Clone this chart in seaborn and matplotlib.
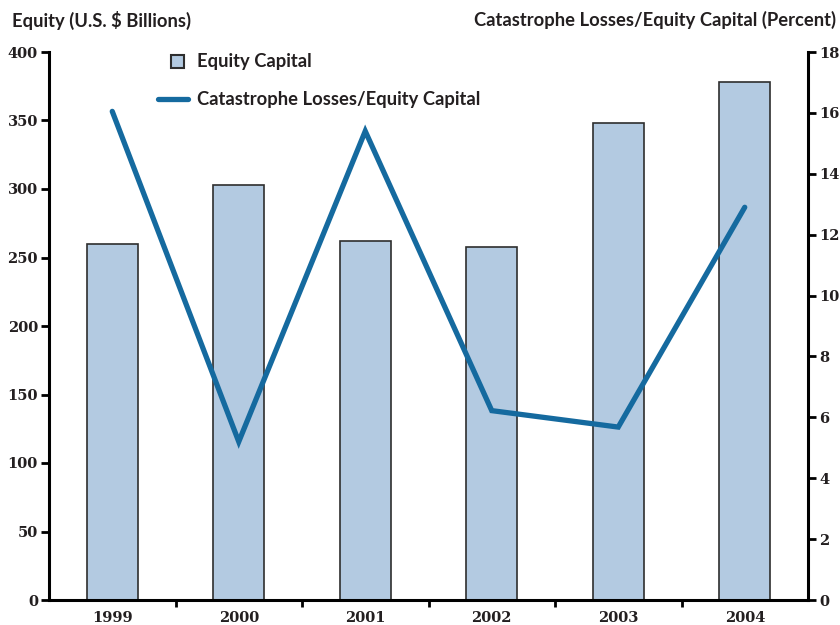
import numpy as np
import pandas as pd
import matplotlib
matplotlib.use("Agg")
import matplotlib.pyplot as plt
import matplotlib.patches as mpatches
from matplotlib.lines import Line2D
from matplotlib.legend_handler import HandlerPatch
from matplotlib.ticker import FixedLocator
import seaborn as sns

years = ["1999", "2000", "2001", "2002", "2003", "2004"]
equity_capital = [259.6, 303.1, 261.8, 257.7, 348.0, 378.3]          # U.S. $ billions
cat_loss_ratio = [16.05, 5.2, 15.4, 6.22, 5.68, 12.9]                # percent
left_ticks = [0, 50, 100, 150, 200, 250, 300, 350, 400]
right_ticks = [0, 2, 4, 6, 8, 10, 12, 14, 16, 18]

sns.set_theme(style="white")
plt.rcParams["font.family"] = ["Lato", "DejaVu Sans"]

BAR_FILL = "#b3cae1"
BAR_EDGE = "#2e2e2e"
LINE_COL = "#156a9f"
TEXT_COL = "#231f20"
TICK_FONT = dict(family=["DejaVu Serif"], weight="bold", size=10.5)
LABEL_SIZE = 13.2

df = pd.DataFrame({"year": years, "equity": equity_capital, "ratio": cat_loss_ratio})

fig = plt.figure(figsize=(8.4, 6.25), dpi=100)
ax = fig.add_axes([49 / 840, 1 - 600 / 625, (808 - 49) / 840, (600 - 52) / 625])

sns.barplot(data=df, x="year", y="equity", ax=ax, color=BAR_FILL,
            width=0.405, edgecolor=BAR_EDGE, linewidth=1.2, saturation=1)
ax.set_xlim(-0.5, len(years) - 0.5)
ax.set_ylim(0, 400)
ax.set_xlabel("")
ax.set_ylabel("")

ax2 = ax.twinx()
sns.lineplot(x=np.arange(len(years)), y=df["ratio"], ax=ax2, color=LINE_COL,
             linewidth=3.8, solid_joinstyle="miter", solid_capstyle="round")
ax2.set_ylim(0, 18)
ax2.set_ylabel("")

# spines
for a in (ax, ax2):
    a.spines["top"].set_visible(False)
    for side in ("left", "right", "bottom"):
        a.spines[side].set_linewidth(2.2)
        a.spines[side].set_color("black")
ax.spines["right"].set_visible(False)
ax2.spines["left"].set_visible(False)
ax2.spines["bottom"].set_visible(False)

# y ticks
ax.yaxis.set_major_locator(FixedLocator(left_ticks))
ax.set_yticklabels([str(t) for t in left_ticks], **TICK_FONT, color=TEXT_COL)
ax.tick_params(axis="y", which="major", direction="out", length=6, width=2,
               color="black", pad=2, left=True)
ax2.yaxis.set_major_locator(FixedLocator(right_ticks))
ax2.set_yticklabels([str(t) for t in right_ticks], **TICK_FONT, color=TEXT_COL)
ax2.tick_params(axis="y", which="major", direction="out", length=6, width=2,
                color="black", pad=2, right=True)

# x ticks: labels at bar centres, tick marks at category boundaries
ax.set_xticks(range(len(years)))
ax.set_xticklabels(years, **TICK_FONT, color=TEXT_COL)
ax.tick_params(axis="x", which="major", length=0, pad=8)
ax.xaxis.set_minor_locator(FixedLocator(np.arange(0.5, len(years) - 1, 1.0)))
ax.tick_params(axis="x", which="minor", direction="out", length=5, width=2,
               color="black", bottom=True)

# axis titles
fig.text(12 / 840, 1 - 20 / 625, "Equity (U.S. $ Billions)", ha="left", va="center",
         fontsize=LABEL_SIZE, fontweight="bold", color=TEXT_COL)
fig.text(836 / 840, 1 - 20 / 625, "Catastrophe Losses/Equity Capital (Percent)",
         ha="right", va="center", fontsize=LABEL_SIZE, fontweight="bold", color=TEXT_COL)


def square_patch(legend, orig_handle, xdescent, ydescent, width, height, fontsize):
    s = 9.4
    return mpatches.Rectangle((-xdescent + width - s - 2.5, -ydescent + (height - s) / 2), s, s)


handles = [mpatches.Patch(facecolor=BAR_FILL, edgecolor=BAR_EDGE, linewidth=1.5),
           Line2D([0], [0], color=LINE_COL, linewidth=3.8, solid_capstyle="round")]
labels = ["Equity Capital", "Catastrophe Losses/Equity Capital"]
leg = ax2.legend(handles, labels, loc="upper left", bbox_to_anchor=(141 / 840, 1 - 37 / 625),
                 bbox_transform=fig.transFigure, frameon=False, fontsize=LABEL_SIZE,
                 handlelength=1.65, handletextpad=0.48, labelspacing=1.12,
                 handler_map={mpatches.Patch: HandlerPatch(patch_func=square_patch)})
for t in leg.get_texts():
    t.set_color(TEXT_COL)
    t.set_fontweight("bold")

fig.savefig("out.png", dpi=100)
